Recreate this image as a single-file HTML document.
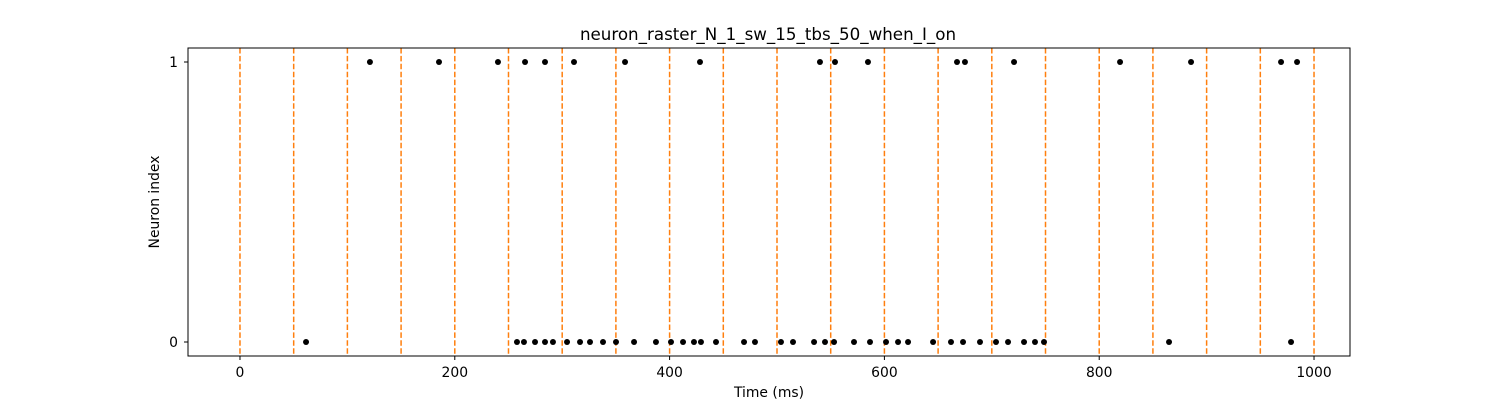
<!DOCTYPE html>
<html><head><meta charset="utf-8"><style>
html,body{margin:0;padding:0;background:#fff;}
svg{display:block;font-family:"DejaVu Sans","Liberation Sans",sans-serif;}
</style></head><body>
<svg id="chart" width="1500" height="400" viewBox="0 0 1500 400" xmlns="http://www.w3.org/2000/svg">
<rect x="0" y="0" width="1500" height="400" fill="#fff"/>
<text x="768" y="40" text-anchor="middle" font-size="16.7" fill="#000">neuron_raster_N_1_sw_15_tbs_50_when_I_on</text>
<g id="marks"></g>
<text x="769" y="397" text-anchor="middle" font-size="13.9" fill="#000">Time (ms)</text>
<text x="159" y="202" text-anchor="middle" font-size="13.9" fill="#000" transform="rotate(-90 159 202)">Neuron index</text>
</svg>
<script>
const spikesNeuron0 = [61.5,257.9,264.4,274.7,284,291.4,304.5,316.6,325.9,338,350.1,366.9,387.3,401.3,412.5,422.7,429.2,443.2,469.3,479.5,503.7,514.9,534.5,544.7,553.1,571.7,586.6,601.5,612.7,622,645.3,662,673.2,689,703.9,715.1,730,740.2,748.6,865,978.6];
const spikesNeuron1 = [121,185.3,240.2,265.4,284,311,358.5,428.3,540,554,584.7,667.6,675,720.7,819.4,885.5,969.3,984.2];
const binEdges = [0,50,100,150,200,250,300,350,400,450,500,550,600,650,700,750,800,850,900,950,1000];
const xTicks = [0,200,400,600,800,1000];
const yTicks = [0,1];

const L=188,R=1350,T=48,B=356;
const xMin=-48.4,xMax=1033.5,yMin=-0.05,yMax=1.05;
const sx=v=>L+(v-xMin)/(xMax-xMin)*(R-L);
const sy=v=>B-(v-yMin)/(yMax-yMin)*(B-T);
const NS="http://www.w3.org/2000/svg";
const g=document.getElementById('marks');
function mk(t,a){const e=document.createElementNS(NS,t);for(const k in a)e.setAttribute(k,a[k]);g.appendChild(e);return e;}

binEdges.forEach(v=>{
  const e=mk('line',{x1:sx(v),x2:sx(v),y1:T,y2:B,stroke:'#ff7f0e','stroke-width':1.5,'stroke-dasharray':'5.5,2.4'});
  
  
});
[[spikesNeuron0,0],[spikesNeuron1,1]].forEach(([arr,n])=>{
  arr.forEach(v=>{
    const e=mk('circle',{cx:sx(v),cy:sy(n),r:3,fill:'#000'});
    
    
  });
});
const frame=mk('rect',{x:L,y:T,width:R-L,height:B-T,fill:'none',stroke:'#000','stroke-width':1});


xTicks.forEach(v=>{
  const tk=mk('line',{x1:sx(v),x2:sx(v),y1:B,y2:B+4,stroke:'#000','stroke-width':1});
  
  
  const t=mk('text',{x:sx(v),y:B+21,'text-anchor':'middle','font-size':13.9,fill:'#000'});
  t.textContent=v;
  
  
});
yTicks.forEach(v=>{
  const tk=mk('line',{x1:L-4,x2:L,y1:sy(v),y2:sy(v),stroke:'#000','stroke-width':1});
  
  
  const t=mk('text',{x:L-10,y:sy(v)+5,'text-anchor':'end','font-size':13.9,fill:'#000'});
  t.textContent=v;
  
  
});
</script>
</body></html>
